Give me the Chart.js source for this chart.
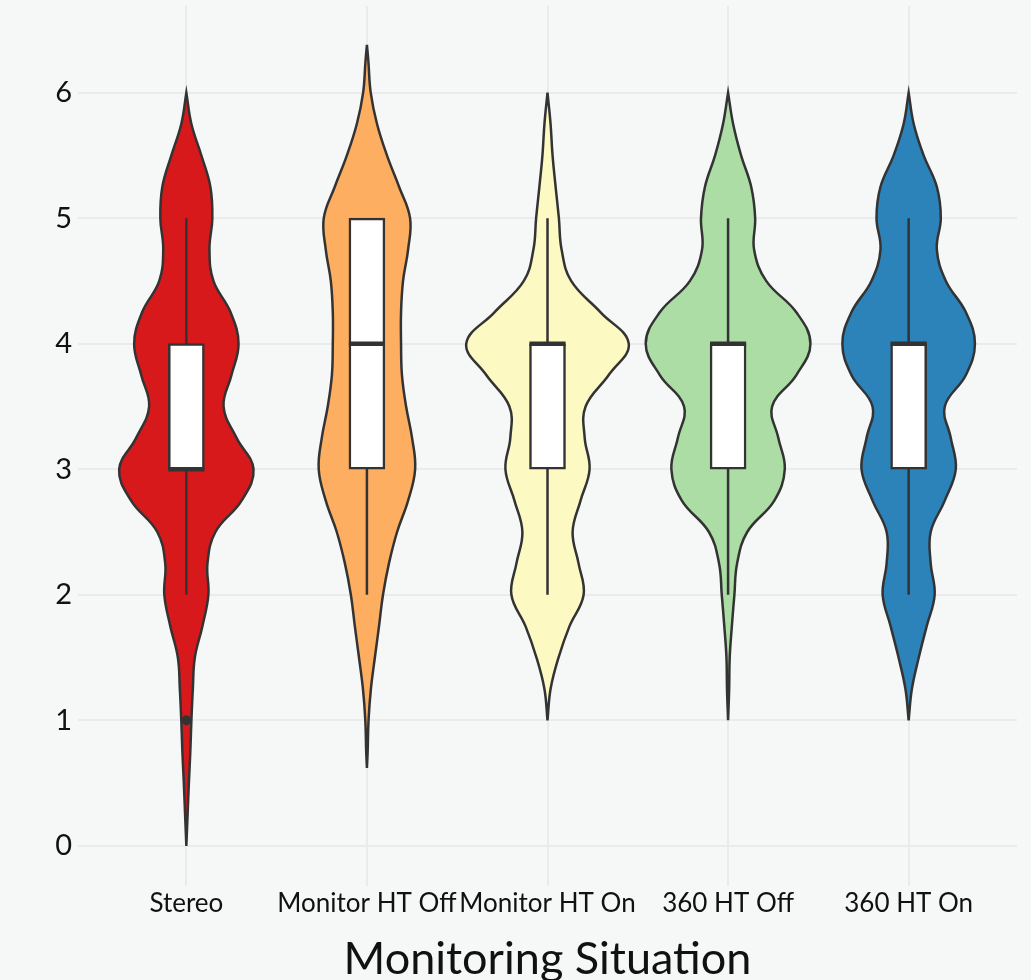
<!DOCTYPE html>
<html>
<head>
<meta charset="utf-8">
<script src="https://cdn.jsdelivr.net/npm/chart.js@4"></script>
<style>
  html, body { margin: 0; padding: 0; background: #f6f8f8; }
  #wrap { width: 1031px; height: 980px; position: relative; }
</style>
</head>
<body>
<div id="wrap"><canvas id="grafico"></canvas></div>
<script>
// categorias y ejes
var categories = ["Stereo", "Monitor HT Off", "Monitor HT On", "360 HT Off", "360 HT On"];
var yTicks = [0, 1, 2, 3, 4, 5, 6];
var fillColors = ["#d7191c", "#fdae61", "#fcf9c2", "#abdda4", "#2b83ba"];

// niveles donde se lee la anchura de cada violin (media anchura, en unidades del eje x)
var levels = [0, 0.25, 0.5, 0.75, 1, 1.25, 1.5, 1.75, 2, 2.25, 2.5, 2.75, 3,
              3.25, 3.5, 3.75, 4, 4.25, 4.5, 4.75, 5, 5.25, 5.5, 5.75, 6, 6.25];
var widthStereo  = [0, .007, .014, .022, .028, .036, .047, .089, .122, .117, .161, .306, .372,
                    .278, .206, .25, .289, .245, .15, .128, .144, .133, .083, .028, 0, null];
var widthMonOff  = [null, null, null, .004, .009, .022, .044, .067, .089, .122, .167, .228, .267,
                    .25, .217, .194, .189, .189, .2, .228, .239, .178, .111, .056, .021, .008];
var widthMonOn   = [null, null, null, null, 0, .017, .061, .122, .2, .172, .139, .183, .233,
                    .206, .211, .339, .45, .294, .131, .078, .063, .045, .028, .017, 0, null];
var width360Off  = [null, null, null, null, 0, .006, .009, .021, .035, .05, .106, .256, .314,
                    .278, .244, .378, .456, .378, .211, .144, .15, .128, .072, .028, 0, null];
var width360On   = [null, null, null, null, 0, .018, .056, .1, .144, .122, .122, .2, .261,
                    .233, .2, .317, .367, .317, .206, .156, .178, .156, .083, .028, 0, null];
var tailLow  = [0, 0.62, 1, 1, 1];
var tailHigh = [6, 6.38, 6, 6, 6];

// boxplot
var q1 = [3, 3, 3, 3, 3];
var median = [3, 4, 4, 4, 4];
var q3 = [4, 5, 4, 4, 4];
var whiskerLow = [2, 2, 2, 2, 2];
var whiskerHigh = [5, 5, 5, 5, 5];
var outlierCat = [1];
var outlierVal = [1];

var widths = [widthStereo, widthMonOff, widthMonOn, width360Off, width360On];
var boxHalf = 0.1;
var ink = "#333333";
var fuente = "Lato, 'Open Sans', sans-serif";

function violinPoints(i) {
    var c = i + 1, w = widths[i];
    var right = [], left = [];
    levels.forEach(function (lv, j) {
        if (w[j] == null || lv <= tailLow[i] || lv >= tailHigh[i]) return;
        right.push({ x: c + w[j], y: lv });
        left.unshift({ x: c - w[j], y: lv });
    });
    var lo = { x: c, y: tailLow[i] }, hi = { x: c, y: tailHigh[i] };
    return [lo].concat(right, [hi, { x: c, y: tailHigh[i] }], left, [{ x: c, y: tailLow[i] }]);
}

var datasets = [];
categories.forEach(function (cat, i) {
    datasets.push({
        type: "scatter",
        label: cat,
        data: violinPoints(i),
        showLine: true,
        fill: "shape",
        backgroundColor: fillColors[i],
        borderColor: ink,
        borderWidth: 2.5,
        tension: 0.4,
        pointRadius: 0,
        order: 10,
    });
});

// bigotes
var whiskerData = [];
categories.forEach(function (cat, i) {
    whiskerData.push({ x: i + 1, y: whiskerLow[i] }, { x: i + 1, y: whiskerHigh[i] }, { x: i + 1, y: null });
});
datasets.push({
    type: "scatter", data: whiskerData, showLine: true, spanGaps: false,
    borderColor: ink, borderWidth: 2.5, pointRadius: 0, fill: false, order: 5,
});

// cajas
datasets.push({
    type: "bar",
    data: categories.map(function (cat, i) { return { x: i + 1, y: [q1[i], q3[i]] }; }),
    backgroundColor: "#ffffff",
    borderColor: ink,
    borderWidth: 2.5,
    borderSkipped: false,
    barThickness: 36,
    order: 4,
});

// medianas
var medianData = [];
categories.forEach(function (cat, i) {
    medianData.push({ x: i + 1 - boxHalf, y: median[i] }, { x: i + 1 + boxHalf, y: median[i] }, { x: i + 1, y: null });
});
datasets.push({
    type: "scatter", data: medianData, showLine: true, spanGaps: false,
    borderColor: ink, borderWidth: 4.5, pointRadius: 0, fill: false, order: 3,
});

// atipicos
datasets.push({
    type: "scatter",
    data: outlierCat.map(function (c, k) { return { x: c, y: outlierVal[k] }; }),
    pointRadius: 4.5, pointBackgroundColor: ink, pointBorderColor: ink, order: 1,
});

var ctx = document.getElementById("grafico").getContext("2d");
var myChart = new Chart(ctx, {
    type: "scatter",
    data: { datasets: datasets },
    options: {
        responsive: true,
        maintainAspectRatio: false,
        animation: false,
        layout: { padding: { top: 6, right: 14, left: 0, bottom: 0 } },
        plugins: { legend: { display: false }, tooltip: { enabled: false } },
        scales: {
            x: {
                type: "linear",
                min: 0.4,
                max: 5.6,
                offset: false,
                afterBuildTicks: function (axis) {
                    axis.ticks = categories.map(function (c, i) { return { value: i + 1 }; });
                },
                afterFit: function (axis) {
                    axis.height = 94;
                    axis.paddingLeft = 0;
                    axis.paddingRight = 0;
                },
                ticks: {
                    autoSkip: false,
                    maxRotation: 0,
                    padding: 2,
                    color: "#111111",
                    font: { family: fuente, size: 26 },
                    callback: function (value) { return categories[value - 1]; },
                },
                grid: { color: "#ebebeb", lineWidth: 2, drawTicks: false, offset: false },
                border: { display: false },
                title: {
                    display: true,
                    text: "Monitoring Situation",
                    color: "#111111",
                    font: { family: fuente, size: 45, lineHeight: 1 },
                    padding: { top: 0, bottom: -2 },
                },
            },
            y: {
                type: "linear",
                min: -0.32,
                max: 6.69,
                afterBuildTicks: function (axis) {
                    axis.ticks = yTicks.map(function (v) { return { value: v }; });
                },
                afterFit: function (axis) {
                    axis.width = 78;
                    axis.paddingTop = 0;
                    axis.paddingBottom = 0;
                },
                ticks: {
                    padding: 6,
                    color: "#111111",
                    font: { family: fuente, size: 29 },
                },
                grid: { color: "#ebebeb", lineWidth: 2, drawTicks: false },
                border: { display: false },
            },
        },
    },
});
</script>
</body>
</html>
